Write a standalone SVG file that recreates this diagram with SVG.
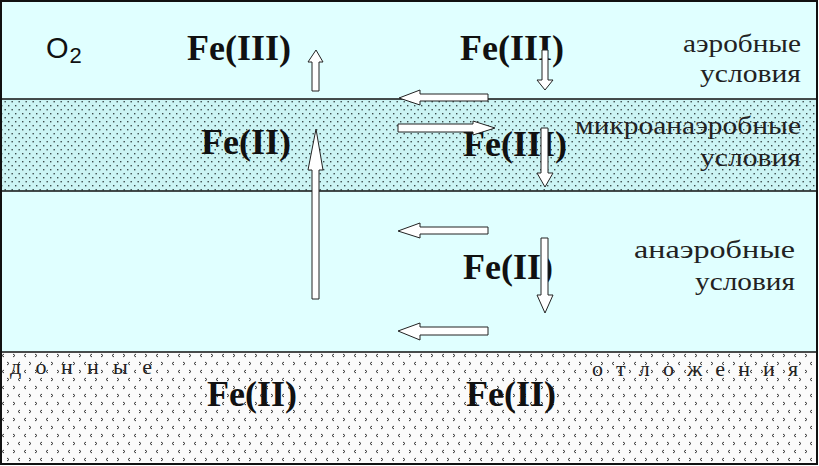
<svg xmlns="http://www.w3.org/2000/svg" width="819" height="466" viewBox="0 0 819 466">
<style>
.fe{font-family:"Liberation Serif","Times New Roman",serif;font-weight:bold;font-size:36px;fill:#111}
.lbl{font-family:"Liberation Serif","DejaVu Serif",serif;font-size:26px;fill:#222;text-anchor:end}
.sed{font-family:"Liberation Serif","DejaVu Serif",serif;font-size:22px;fill:#222}
.arr{fill:#fff;stroke:#222;stroke-width:1}
.line{stroke:#111;stroke-width:1.5}
</style>
<defs>
<pattern id="dots" width="7" height="8" patternUnits="userSpaceOnUse">
<rect width="7" height="8" fill="#ccf4f4"/>
<rect x="1" y="1" width="1.4" height="1.4" fill="#3a4a4a"/>
<rect x="4.5" y="5" width="1.4" height="1.4" fill="#3a4a4a"/>
</pattern>
<pattern id="sedp" width="22" height="16" patternUnits="userSpaceOnUse">
<rect width="22" height="16" fill="#fbfbfb"/>
<path d="M4,2 L2,3.5 L4,5 M13,2 L15,3.5 L13,5 M7,10 L9,11.5 L7,13 M20,10 L18,11.5 L20,13" fill="none" stroke="#333" stroke-width="1"/>
</pattern>
</defs>
<g id="bands">
<rect x="1" y="1" width="816" height="98" fill="#e0ffff"/>
<rect x="1" y="99" width="816" height="92" fill="url(#dots)"/>
<rect x="1" y="191" width="816" height="161" fill="#e0ffff"/>
<rect x="1" y="352" width="816" height="112" fill="url(#sedp)"/>
<line class="line" x1="1" y1="99" x2="817" y2="99"/>
<line class="line" x1="1" y1="191" x2="817" y2="191"/>
<line class="line" x1="1" y1="352" x2="817" y2="352"/>
<rect x="1" y="1" width="816" height="463" fill="none" stroke="#111" stroke-width="2"/>
</g>
<g id="o2">
<text x="46" y="58" font-family="Liberation Sans, Arial, sans-serif" font-size="29" fill="#111">O<tspan font-size="22" dx="1" dy="5">2</tspan></text>
</g>
<g id="fe-aer-left"><text class="fe" x="187" y="60">Fe(III)</text></g>
<g id="fe-aer-right"><text class="fe" x="460" y="60">Fe(III)</text></g>
<g id="fe-micro-left"><text class="fe" x="201" y="154">Fe(II)</text></g>
<g id="fe-micro-right"><text class="fe" x="463" y="156">Fe(III)</text></g>
<g id="fe-anaer"><text class="fe" x="463" y="279">Fe(II)</text></g>
<g id="fe-sed-left"><text class="fe" x="207" y="406">Fe(II)</text></g>
<g id="fe-sed-right"><text class="fe" x="466" y="406">Fe(II)</text></g>
<g id="label-aer">
<text class="lbl" x="801" y="52" textLength="118" lengthAdjust="spacingAndGlyphs">аэробные</text>
<text class="lbl" x="801" y="82" textLength="101" lengthAdjust="spacingAndGlyphs">условия</text>
</g>
<g id="label-micro">
<text class="lbl" x="801" y="134" textLength="226" lengthAdjust="spacingAndGlyphs">микроанаэробные</text>
<text class="lbl" x="801" y="166" textLength="101" lengthAdjust="spacingAndGlyphs">условия</text>
</g>
<g id="label-anaer">
<text class="lbl" x="795" y="258" textLength="161" lengthAdjust="spacingAndGlyphs">анаэробные</text>
<text class="lbl" x="795" y="290" textLength="100" lengthAdjust="spacingAndGlyphs">условия</text>
</g>
<g id="label-sed">
<text class="sed" x="10" y="374" textLength="142" lengthAdjust="spacing">д о н н ы е</text>
<text class="sed" x="592" y="376" textLength="206" lengthAdjust="spacing">о т л о ж е н и я</text>
</g>
<g id="connectors">
<polygon class="arr" points="312,91 312,62 308,62 316,50 323,62 319,62 319,91"/>
<polygon class="arr" points="312,299 312,170 308,170 316,129 323,170 319,170 319,299"/>
<polygon class="arr" points="488,94 420,94 420,90 399,98 420,105 420,101 488,101"/>
<polygon class="arr" points="398,124 473,124 473,121 495,128 473,135 473,132 398,132"/>
<polygon class="arr" points="542,50 548,50 548,80 553,80 545,90 537,80 542,80"/>
<polygon class="arr" points="541,128 548,128 548,173 553,173 545,187 537,173 541,173"/>
<polygon class="arr" points="488,227 420,227 420,223 398,231 420,238 420,234 488,234"/>
<polygon class="arr" points="541,238 548,238 548,295 553,295 545,313 537,295 541,295"/>
<polygon class="arr" points="488,327 420,327 420,323 398,331 420,340 420,335 488,335"/>
</g>
</svg>
